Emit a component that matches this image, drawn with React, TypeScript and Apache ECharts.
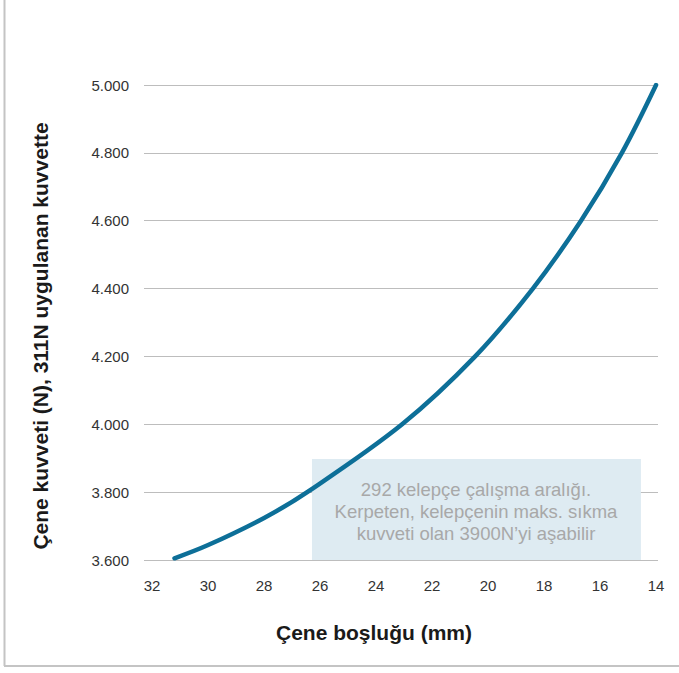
import React, { useEffect, useRef } from "react";
import * as echarts from "echarts";

const gapMm: number[] = [31.2, 30, 28, 26.46, 23.07, 20.46, 18.4, 16.68, 15.22, 14];
const forceN: number[] = [3605, 3644, 3724, 3800, 4000, 4200, 4400, 4600, 4800, 5000];
const xTicks: number[] = [14, 16, 18, 20, 22, 24, 26, 28, 30, 32];
const rangeBox: number[][] = [[26.29, 3600], [14.54, 3898]];
const boxLines: string[] = [
  "292 kelepçe çalışma aralığı.",
  "Kerpeten, kelepçenin maks. sıkma",
  "kuvveti olan 3900N’yi aşabilir",
];
const yTitle = "Çene kuvveti (N), 311N uygulanan kuvvette";
const xTitle = "Çene boşluğu (mm)";

const fmt = (v: number) => {
  const s = Math.round(v).toString();
  return s.replace(/\B(?=(\d{3})+(?!\d))/g, ".");
};

export default function App() {
  const ref = useRef<HTMLDivElement>(null);
  useEffect(() => {
    if (!ref.current) return;
    const chart = echarts.init(ref.current, undefined, { renderer: "svg" });
    const font = "'Liberation Sans', Arial, sans-serif";
    chart.setOption({
      animation: false,
      backgroundColor: "#ffffff",
      grid: { left: 144, right: 21, top: 85, bottom: 113 },
      xAxis: {
        type: "value",
        inverse: true,
        min: 13.93,
        max: 32.29,
        axisLine: { show: false },
        axisTick: { show: false },
        splitLine: { show: false },
        axisLabel: {
          customValues: xTicks,
          color: "#333333",
          fontSize: 15,
          fontFamily: font,
          margin: 18,
          formatter: (v: number) => String(Math.round(v)),
        },
      },
      yAxis: {
        type: "value",
        min: 3600,
        max: 5000,
        interval: 200,
        axisLine: { show: false },
        axisTick: { show: false },
        splitLine: { lineStyle: { color: "#bdbdbd", width: 1 } },
        axisLabel: {
          color: "#333333",
          fontSize: 15,
          fontFamily: font,
          margin: 15,
          formatter: (v: number) => fmt(v),
        },
      },
      series: [
        {
          type: "line",
          data: gapMm.map((x, i) => [x, forceN[i]]),
          smooth: 0.35,
          showSymbol: false,
          symbol: "none",
          lineStyle: { color: "#0d6f98", width: 4.5, cap: "round" },
          z: 5,
          markArea: {
            silent: true,
            itemStyle: { color: "#deebf2" },
            label: { show: false },
            data: [[{ coord: rangeBox[0] }, { coord: rangeBox[1] }]],
          },
        },
      ],
      graphic: [
        {
          type: "line",
          shape: { x1: 4.5, y1: 0, x2: 4.5, y2: 666 },
          style: { stroke: "#c4c4c4", lineWidth: 2 },
        },
        {
          type: "line",
          shape: { x1: 4, y1: 666, x2: 679, y2: 666 },
          style: { stroke: "#c4c4c4", lineWidth: 2 },
        },
        {
          type: "text",
          x: 476,
          y: 511,
          z: 10,
          style: {
            text: boxLines.join("\n"),
            fill: "#a8a8a8",
            font: `18.5px ${font}`,
            align: "center",
            verticalAlign: "middle",
            lineHeight: 22,
          },
        },
        {
          type: "text",
          x: 374,
          y: 632,
          style: {
            text: xTitle,
            fill: "#1a1a1a",
            font: `bold 21px ${font}`,
            align: "center",
            verticalAlign: "middle",
          },
        },
        {
          type: "text",
          x: 40,
          y: 336,
          rotation: Math.PI / 2,
          style: {
            text: yTitle,
            fill: "#1a1a1a",
            font: `bold 21px ${font}`,
            align: "center",
            verticalAlign: "middle",
          },
        },
      ],
    });
    return () => chart.dispose();
  }, []);
  return (
    <div
      ref={ref}
      style={{ position: "fixed", left: 0, top: 0, width: 679, height: 673 }}
    />
  );
}
